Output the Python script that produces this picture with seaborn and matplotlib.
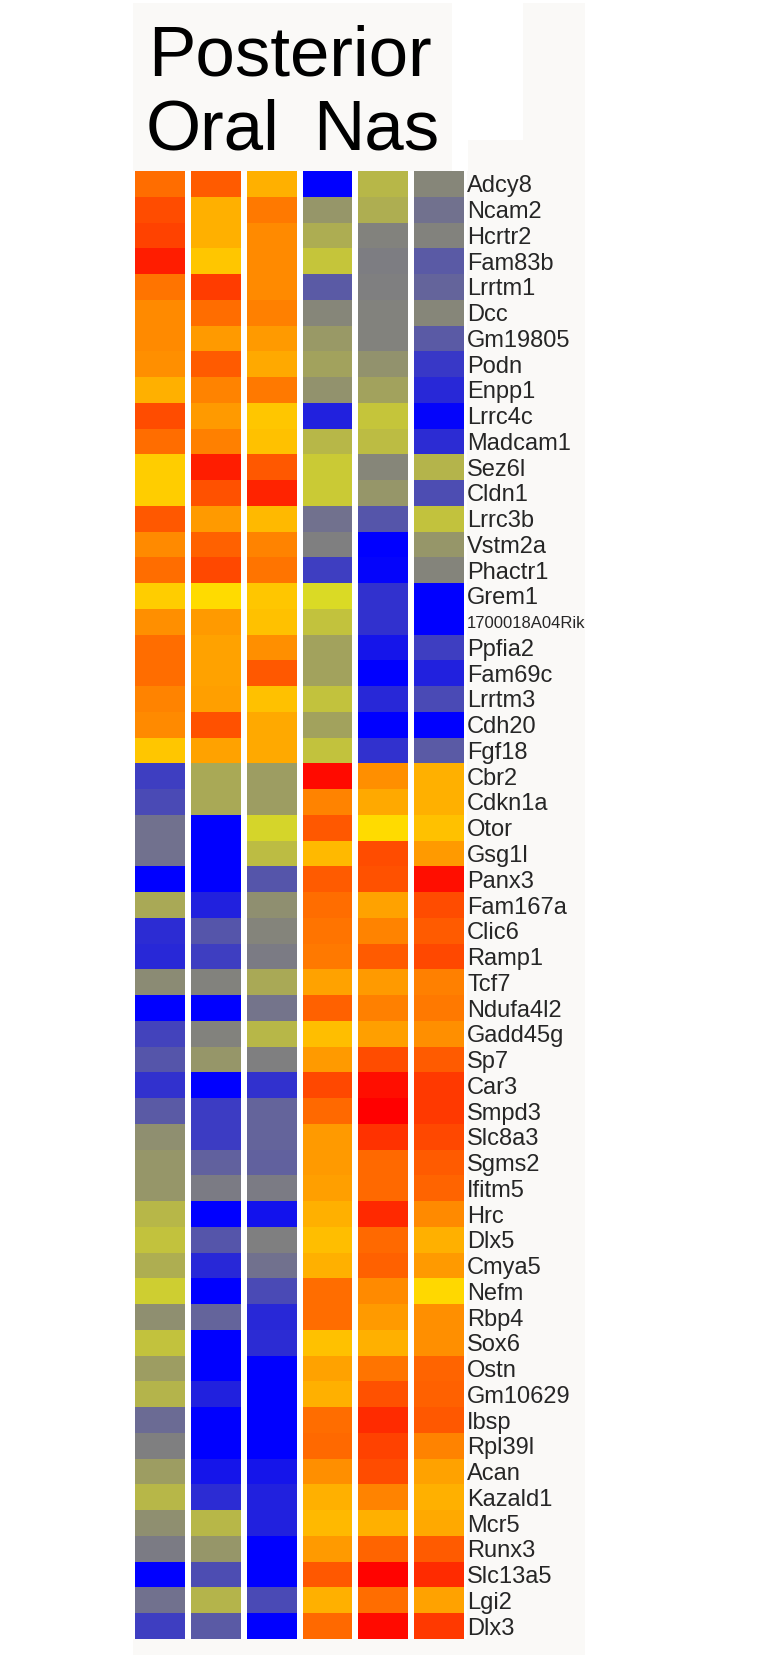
#!/usr/bin/env python3
"""Oral vs nasal posterior expression heatmap, rebuilt with seaborn."""
import numpy as np
import pandas as pd
import matplotlib
matplotlib.use("Agg")
import matplotlib.pyplot as plt
from matplotlib.colors import LinearSegmentedColormap
from matplotlib.patches import Rectangle
import seaborn as sns

# -----------------------------
#  Data (row-scaled, -1 = blue, +1 = red)
# -----------------------------
GENES = [
    "Adcy8", "Ncam2", "Hcrtr2", "Fam83b", "Lrrtm1", "Dcc", "Gm19805", "Podn",
    "Enpp1", "Lrrc4c", "Madcam1", "Sez6l", "Cldn1", "Lrrc3b", "Vstm2a",
    "Phactr1", "Grem1", "1700018A04Rik", "Ppfia2", "Fam69c", "Lrrtm3", "Cdh20",
    "Fgf18", "Cbr2", "Cdkn1a", "Otor", "Gsg1l", "Panx3", "Fam167a", "Clic6",
    "Ramp1", "Tcf7", "Ndufa4l2", "Gadd45g", "Sp7", "Car3", "Smpd3", "Slc8a3",
    "Sgms2", "Ifitm5", "Hrc", "Dlx5", "Cmya5", "Nefm", "Rbp4", "Sox6", "Ostn",
    "Gm10629", "Ibsp", "Rpl39l", "Acan", "Kazald1", "Mcr5", "Runx3", "Slc13a5",
    "Lgi2", "Dlx3",
]

oral_1 = [0.50, 0.65, 0.70, 0.86, 0.47, 0.37, 0.37, 0.35, 0.20, 0.65, 0.50,
          0.07, 0.07, 0.60, 0.37, 0.50, 0.07, 0.35, 0.50, 0.50, 0.40, 0.37,
          0.10, -0.72, -0.67, -0.50, -0.50, -1.00, -0.25, -0.80, -0.82, -0.38,
          -1.00, -0.70, -0.62, -0.78, -0.60, -0.36, -0.33, -0.33, -0.18, -0.14,
          -0.22, -0.08, -0.36, -0.14, -0.30, -0.20, -0.52, -0.43, -0.30, -0.18,
          -0.36, -0.45, -1.00, -0.50, -0.72]
oral_2 = [0.58, 0.20, 0.20, 0.10, 0.72, 0.50, 0.30, 0.58, 0.40, 0.30, 0.42,
          0.86, 0.63, 0.30, 0.56, 0.67, 0.00, 0.30, 0.26, 0.26, 0.28, 0.63,
          0.26, -0.25, -0.25, -1.00, -1.00, -1.00, -0.85, -0.62, -0.72, -0.42,
          -1.00, -0.42, -0.33, -1.00, -0.73, -0.73, -0.57, -0.45, -1.00, -0.62,
          -0.82, -1.00, -0.55, -1.00, -1.00, -0.85, -1.00, -1.00, -0.90, -0.80,
          -0.18, -0.33, -0.65, -0.20, -0.60]
oral_3 = [0.20, 0.45, 0.37, 0.37, 0.37, 0.42, 0.30, 0.23, 0.45, 0.10, 0.12,
          0.60, 0.84, 0.16, 0.40, 0.47, 0.10, 0.12, 0.35, 0.60, 0.12, 0.23,
          0.23, -0.30, -0.30, -0.05, -0.16, -0.62, -0.36, -0.41, -0.45, -0.25,
          -0.48, -0.18, -0.43, -0.78, -0.55, -0.55, -0.57, -0.45, -0.92, -0.43,
          -0.50, -0.67, -0.82, -0.80, -1.00, -1.00, -1.00, -1.00, -0.90, -0.85,
          -0.85, -1.00, -1.00, -0.67, -1.00]
nas_1 = [-1.00, -0.33, -0.23, -0.12, -0.60, -0.40, -0.32, -0.28, -0.35, -0.85,
         -0.18, -0.10, -0.10, -0.50, -0.43, -0.72, -0.03, -0.14, -0.28, -0.28,
         -0.14, -0.28, -0.14, 0.95, 0.40, 0.60, 0.16, 0.58, 0.50, 0.47, 0.45,
         0.26, 0.56, 0.14, 0.30, 0.67, 0.52, 0.30, 0.30, 0.28, 0.20, 0.14, 0.20,
         0.50, 0.50, 0.12, 0.26, 0.20, 0.50, 0.52, 0.35, 0.20, 0.16, 0.30, 0.60,
         0.20, 0.52]
nas_2 = [-0.18, -0.22, -0.42, -0.44, -0.43, -0.42, -0.42, -0.35, -0.28, -0.12,
         -0.16, -0.40, -0.33, -0.62, -1.00, -0.98, -0.78, -0.78, -0.90, -1.00,
         -0.82, -1.00, -0.78, 0.35, 0.23, 0.00, 0.65, 0.63, 0.26, 0.40, 0.58,
         0.30, 0.42, 0.28, 0.65, 0.93, 1.00, 0.77, 0.52, 0.52, 0.81, 0.52, 0.56,
         0.37, 0.30, 0.20, 0.47, 0.63, 0.80, 0.70, 0.65, 0.40, 0.20, 0.54, 0.98,
         0.50, 0.95]
nas_3 = [-0.40, -0.50, -0.42, -0.60, -0.55, -0.40, -0.60, -0.75, -0.82, -0.98,
         -0.80, -0.20, -0.65, -0.14, -0.33, -0.41, -1.00, -1.00, -0.72, -0.85,
         -0.67, -1.00, -0.60, 0.20, 0.20, 0.12, 0.30, 0.93, 0.65, 0.58, 0.67,
         0.42, 0.45, 0.35, 0.58, 0.74, 0.74, 0.67, 0.58, 0.54, 0.37, 0.20, 0.30,
         0.02, 0.35, 0.35, 0.54, 0.56, 0.60, 0.40, 0.26, 0.20, 0.23, 0.58, 0.80,
         0.26, 0.74]

COLUMNS = ["oral_1", "oral_2", "oral_3", "nas_1", "nas_2", "nas_3"]

# -----------------------------
#  Figure
# -----------------------------
W, H = 766, 1659
BG = "#faf9f7"


def main() -> None:
    sns.set_style("white")
    plt.rcParams["font.family"] = ["Liberation Sans", "DejaVu Sans"]

    df = pd.DataFrame(
        np.column_stack([oral_1, oral_2, oral_3, nas_1, nas_2, nas_3]),
        index=GENES, columns=COLUMNS,
    )

    cmap = LinearSegmentedColormap.from_list(
        "blue_olive_red",
        [(0.00, (0 / 255, 0 / 255, 255 / 255)),
         (0.49, (220 / 255, 220 / 255, 35 / 255)),
         (0.50, (255 / 255, 220 / 255, 0 / 255)),
         (1.00, (255 / 255, 0 / 255, 0 / 255))],
    )

    fig = plt.figure(figsize=(W / 100, H / 100), dpi=100)
    fig.patch.set_facecolor("white")

    # off-white backdrop panels like the pasted figure (behind everything)
    bg = fig.add_axes([0, 0, 1, 1], zorder=-5)
    bg.set_xlim(0, W)
    bg.set_ylim(H, 0)
    bg.axis("off")
    bg.add_patch(Rectangle((133, 3), 585 - 133, 1655 - 3,
                           facecolor=BG, edgecolor="none"))
    bg.add_patch(Rectangle((452, 0), 523 - 452, 140,
                           facecolor="white", edgecolor="none"))
    bg.add_patch(Rectangle((452, 140), 468 - 452, 31,
                           facecolor="white", edgecolor="none"))

    left, right = 132, 467
    top, bottom = 171, 1639
    ax = fig.add_axes([left / W, 1 - bottom / H, (right - left) / W,
                       (bottom - top) / H], zorder=2)

    sns.heatmap(df, ax=ax, cmap=cmap, vmin=-1, vmax=1, cbar=False,
                xticklabels=False, yticklabels=True)

    # white gutters between sample columns
    for i in range(len(COLUMNS) + 1):
        ax.axvline(i, color="white", lw=6 * 72 / 100)

    ax.yaxis.tick_right()
    ax.tick_params(axis="y", length=0, pad=0)
    ax.set_yticklabels(GENES, rotation=0, fontsize=17)
    for lab in ax.get_yticklabels():
        if lab.get_text() == "1700018A04Rik":
            lab.set_fontsize(12)
    ax.set_xlabel("")
    ax.set_ylabel("")
    for sp in ax.spines.values():
        sp.set_visible(False)

    # headers
    fig.text(290 / W, 1 - 75 / H, "Posterior", fontsize=51, ha="center",
             va="baseline", color="black", zorder=3)
    fig.text(146 / W, 1 - 150 / H, "Oral", fontsize=51, ha="left",
             va="baseline", color="black", zorder=3)
    fig.text(313 / W, 1 - 150 / H, "Nas", fontsize=51, ha="left",
             va="baseline", color="black", zorder=3)

    fig.savefig("out.png", dpi=100, facecolor=fig.get_facecolor())


if __name__ == "__main__":
    main()
